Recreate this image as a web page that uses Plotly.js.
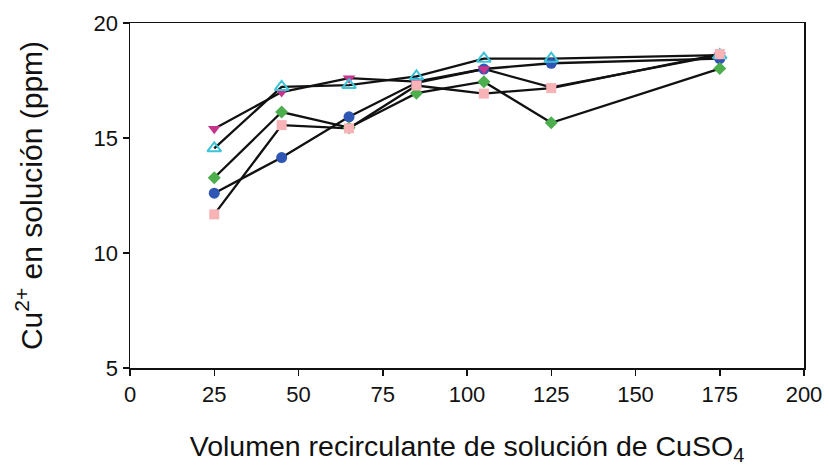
<!DOCTYPE html>
<html>
<head>
<meta charset="utf-8">
<script src="https://cdn.plot.ly/plotly-3.0.1.min.js"></script>
<style>html,body{margin:0;padding:0;background:#fff;}#chart{width:829px;height:470px;}</style>
</head>
<body>
<div id="chart"></div>
<script>
const volumen = [25, 45, 65, 85, 105, 125, 175];
const serieMagenta = [15.4, 17.0, 17.6, 17.45, 18.0, 17.2, 18.6];
const serieCian = [14.55, 17.22, 17.3, 17.68, 18.45, 18.45, 18.6];
const serieVerde = [13.27, 16.13, 15.45, 16.95, 17.45, 15.66, 18.02];
const serieAzul = [12.6, 14.15, 15.92, 17.4, 18.0, 18.25, 18.45];
const serieRosa = [11.68, 15.56, 15.42, 17.28, 16.93, 17.17, 18.65];
const xTicks = [0, 25, 50, 75, 100, 125, 150, 175, 200];
const yTicks = [5, 10, 15, 20];

const series = [
  {y: serieAzul, color: '#2f55b5', symbol: 'circle', size: 11},
  {y: serieMagenta, color: '#c7348c', symbol: 'triangle-down', size: 11},
  {y: serieVerde, color: '#4cae4c', symbol: 'diamond', size: 10},
  {y: serieCian, color: '#3cc3d6', symbol: 'triangle-up-open', size: 12},
  {y: serieRosa, color: '#f7b3b6', symbol: 'square', size: 10}
];

const traces = [];
series.forEach(s => {
  traces.push({x: volumen, y: s.y, type: 'scatter', mode: 'lines',
    line: {color: '#111', width: 2.3}, hoverinfo: 'skip', showlegend: false});
});
series.forEach(s => {
  traces.push({x: volumen, y: s.y, type: 'scatter', mode: 'markers',
    marker: {color: s.color, symbol: s.symbol, size: s.size,
      line: {color: s.color, width: s.symbol.indexOf('open') >= 0 ? 2 : 0}},
    hoverinfo: 'skip', showlegend: false});
});

const layout = {
  width: 829, height: 470,
  margin: {l: 130, r: 25, t: 23, b: 102},
  paper_bgcolor: '#fff', plot_bgcolor: '#fff',
  font: {family: 'Liberation Sans, Arial, sans-serif', color: '#111', size: 22},
  xaxis: {
    range: [0, 200], tickvals: xTicks, ticktext: xTicks.map(String),
    showgrid: false, zeroline: false, showline: true, linecolor: '#111', linewidth: 1.5,
    mirror: true, ticks: 'outside', ticklen: 6, tickwidth: 1.5, tickcolor: '#111',
    tickfont: {size: 22},
    title: {text: 'Volumen recirculante de solución de CuSO<sub>4</sub>', font: {size: 28.5}, standoff: 30}
  },
  yaxis: {
    range: [5, 20], tickvals: yTicks, ticktext: yTicks.map(String),
    showgrid: false, zeroline: false, showline: true, linecolor: '#111', linewidth: 1.5,
    mirror: true, ticks: 'outside', ticklen: 6, tickwidth: 1.5, tickcolor: '#111',
    tickfont: {size: 22},
    title: {text: 'Cu<sup>2+</sup> en solución (ppm)', font: {size: 30}, standoff: 42}
  }
};

Plotly.newPlot('chart', traces, layout, {displayModeBar: false, staticPlot: true});
</script>
</body>
</html>
